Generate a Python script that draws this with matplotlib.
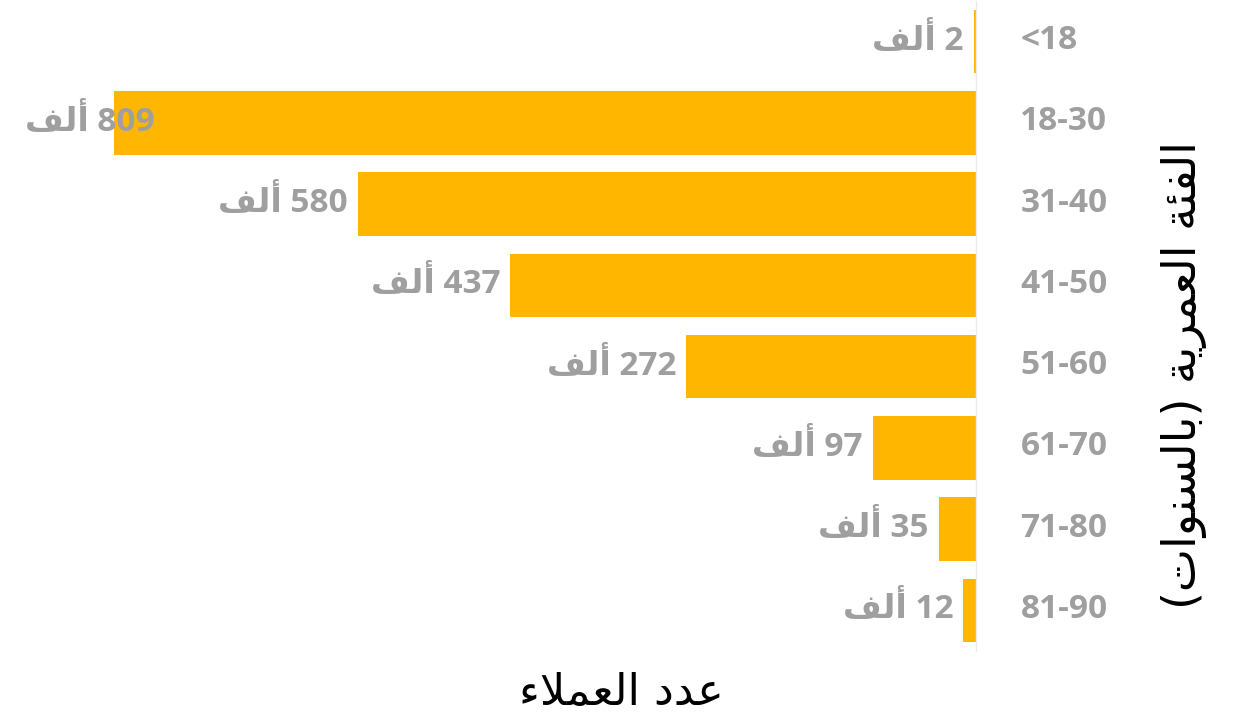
import matplotlib
matplotlib.use("Agg")
import matplotlib.pyplot as plt
from matplotlib.transforms import ScaledTranslation

# data (Arabic strings written in visual order with presentation forms)
age_groups = ["<18", "18-30", "31-40", "41-50", "51-60", "61-70", "71-80", "81-90"]
customers_k = [2, 809, 580, 437, 272, 97, 35, 12]
unit = "\ufed2\ufedf\ufe83"  # ألف
xlabel = "\ufe80\ufefc\ufee4\ufecc\ufedf\ufe8d \ufea9\ufeaa\ufecb"  # عدد العملاء
ylabel = ("(\ufe95\ufe8d\ufeee\ufee8\ufeb4\ufedf\ufe8e\ufe91) "
          "\ufe94\ufef3\ufeae\ufee4\ufecc\ufedf\ufe8d "
          "\ufe94\ufe8c\ufed4\ufedf\ufe8d")  # الفئة العمرية (بالسنوات)

bar_color = "#FFB600"
text_gray = "#9f9f9f"
lab_font = ["Open Sans", "DejaVu Sans"]
nudge = 1  # px, lift labels slightly

fig = plt.figure(figsize=(12.35, 7.13), dpi=100)
ax = fig.add_axes([0.0, 1 - 651 / 713, 976 / 1235, 650 / 713])

ypos = list(range(len(age_groups)))
ax.barh(ypos, customers_k, height=0.78, color=bar_color)
ax.set_xlim(916, 0)
ax.set_ylim(len(age_groups) - 0.5, -0.5)

for s in ["top", "left", "bottom"]:
    ax.spines[s].set_visible(False)
ax.spines["right"].set_color("#ebebeb")
ax.spines["right"].set_linewidth(1)
ax.set_xticks([])
ax.yaxis.tick_right()
ax.set_yticks(ypos)
ax.set_yticklabels(age_groups, family=lab_font, fontweight="bold",
                   fontsize=24, color=text_gray, va="center")
ax.tick_params(axis="y", length=0, pad=32)
up = ScaledTranslation(0, nudge / 100, fig.dpi_scale_trans)
for lab in ax.get_yticklabels():
    lab.set_transform(lab.get_transform() + up)

labels = []
for y, v in zip(ypos, customers_k):
    t = ax.annotate(f"{unit} {v}", xy=(v, y), xytext=(-10, nudge),
                    textcoords="offset pixels", ha="right", va="center",
                    family=lab_font, fontweight="bold", fontsize=24,
                    color=text_gray, annotation_clip=False)
    labels.append(t)

fig.text(621 / 1235, 1 - 705 / 713, xlabel, ha="center", va="baseline",
         fontsize=32, family="DejaVu Sans", color="black")
fig.text(1184 / 1235, 1 - 375 / 713, ylabel, ha="center", va="center",
         rotation=90, fontsize=33, family="DejaVu Sans", color="black")

# keep labels inside the figure, like the original
fig.canvas.draw()
r = fig.canvas.get_renderer()
for t in labels:
    bb = t.get_window_extent(r)
    if bb.x0 < 25:
        t.xyann = (-10 + (25 - bb.x0), nudge)

fig.savefig("out.png", dpi=100)
